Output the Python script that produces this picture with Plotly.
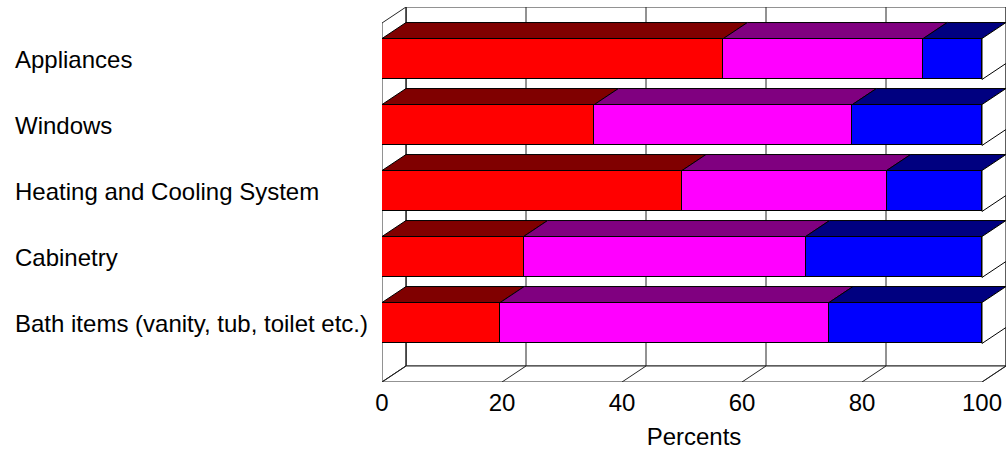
import plotly.graph_objects as go

# Categories listed bottom-to-top (Plotly's numeric y grows upward)
categories = [
    "Bath items (vanity, tub, toilet etc.)",
    "Cabinetry",
    "Heating and Cooling System",
    "Windows",
    "Appliances",
]
share_a = [19.7, 23.6, 50.0, 35.4, 56.9]
share_b = [54.8, 47.0, 34.1, 43.0, 33.3]
share_c = [25.5, 29.4, 15.9, 21.6, 9.8]
x_ticks = [0, 20, 40, 60, 80, 100]

series = [
    ("Share A", share_a, "#FF0000", "#800000"),
    ("Share B", share_b, "#FF00FF", "#800080"),
    ("Share C", share_c, "#0000FF", "#000080"),
]

# 3D extrusion and layout parameters
DX = 4.0            # depth offset along x, in percent units
DY = 16 / 66        # depth offset along y, in category units
BAR_W = 0.62        # front face thickness, in category units
Y_MIN = -59 / 66    # floor front edge
Y_MAX = 316 / 66    # back wall top edge
X_MAX = 100 + DX
FONT = "Liberation Sans, Arial, sans-serif"
FSIZE = 24
EDGE = "#000000"
GRID = "#262626"

M_L, M_R, M_T, M_B = 382, 1, 7, 70
W, H = 1007, 452

fig = go.Figure()

# Front faces: stacked horizontal bars
ypos = list(range(len(categories)))
for name, vals, front, _top in series:
    fig.add_trace(go.Bar(
        y=ypos, x=vals, name=name, orientation="h", width=BAR_W,
        marker=dict(color=front, line=dict(color=EDGE, width=1)),
        showlegend=False, hoverinfo="x",
    ))

shapes = []


def poly(pts, fill, line_color=EDGE, width=1):
    path = "M " + " L ".join(f"{x},{y}" for x, y in pts) + " Z"
    shapes.append(dict(type="path", path=path, xref="x", yref="y",
                       fillcolor=fill, line=dict(color=line_color, width=width),
                       layer="below"))


def seg(x0, y0, x1, y1, color=GRID, width=1):
    shapes.append(dict(type="line", x0=x0, y0=y0, x1=x1, y1=y1,
                       xref="x", yref="y", line=dict(color=color, width=width),
                       layer="below"))


top_front = Y_MAX - DY
floor_back = Y_MIN + DY

# Back wall, left wall and floor
poly([(DX, floor_back), (X_MAX, floor_back), (X_MAX, Y_MAX), (DX, Y_MAX)], "white", GRID)
poly([(0, Y_MIN), (DX, floor_back), (DX, Y_MAX), (0, top_front)], "white", GRID)
poly([(0, Y_MIN), (100, Y_MIN), (X_MAX, floor_back), (DX, floor_back)], "white", GRID)

# Grid lines on the back wall and floor
for t in x_ticks:
    seg(t + DX, floor_back, t + DX, Y_MAX)
    seg(t, Y_MIN, t + DX, floor_back)

# Top faces and right-hand end faces of each bar
for i in ypos:
    y_lo = i - BAR_W / 2
    y_hi = i + BAR_W / 2
    left = 0.0
    for name, vals, _front, top in series:
        right = left + vals[i]
        poly([(left, y_hi), (right, y_hi), (right + DX, y_hi + DY),
              (left + DX, y_hi + DY)], top)
        left = right
    poly([(left, y_lo), (left + DX, y_lo + DY), (left + DX, y_hi + DY),
          (left, y_hi)], "white")

# Category labels, left aligned in the margin
annotations = []
for i, cat in enumerate(categories):
    annotations.append(dict(
        text=cat, x=-(M_L - 13) / (W - M_L - M_R), y=i, xref="paper", yref="y",
        xanchor="left", yanchor="middle", showarrow=False,
        font=dict(family=FONT, size=FSIZE, color="#000000"),
    ))

fig.update_layout(
    width=W, height=H,
    margin=dict(l=M_L, r=M_R, t=M_T, b=M_B, pad=0),
    paper_bgcolor="white", plot_bgcolor="white",
    barmode="stack", bargap=0,
    shapes=shapes, annotations=annotations,
    font=dict(family=FONT, size=FSIZE, color="#000000"),
    xaxis=dict(
        range=[0, X_MAX], tickvals=x_ticks, ticktext=[str(t) for t in x_ticks],
        showgrid=False, zeroline=False, showline=False, ticks="",
        ticklabelstandoff=4,
        tickfont=dict(family=FONT, size=FSIZE, color="#000000"),
        title=dict(text="Percents", font=dict(family=FONT, size=FSIZE, color="#000000"),
                   standoff=13),
        fixedrange=True,
    ),
    yaxis=dict(
        range=[Y_MIN, Y_MAX], showgrid=False, zeroline=False, showline=False,
        showticklabels=False, ticks="", fixedrange=True,
    ),
)

fig.write_html("out.html")
